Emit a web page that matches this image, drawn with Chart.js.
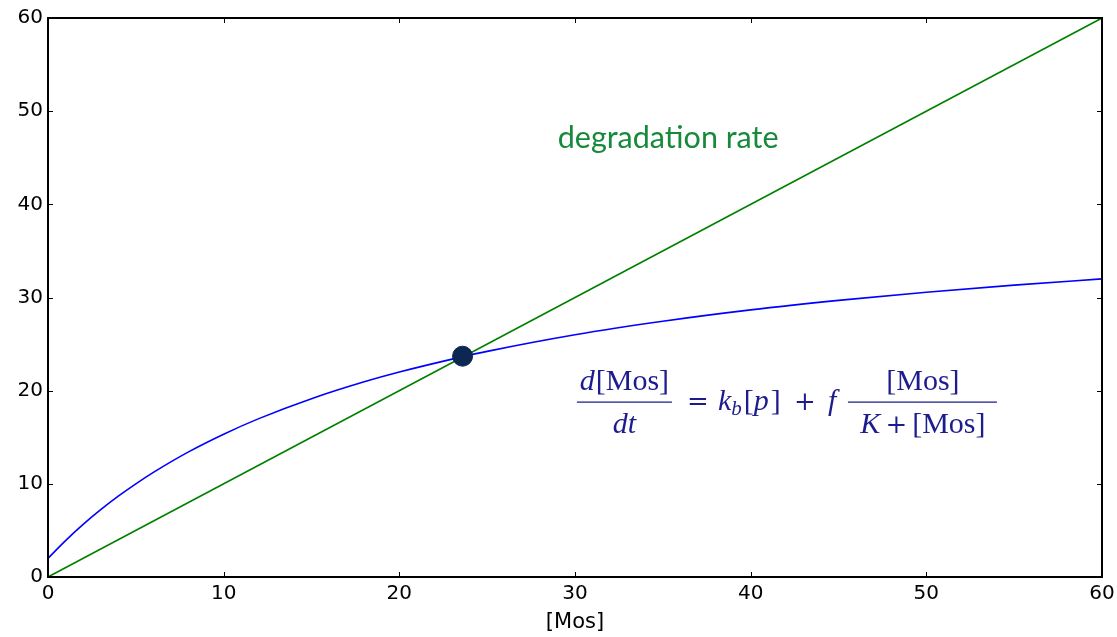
<!DOCTYPE html>
<html>
<head>
<meta charset="utf-8">
<script src="https://cdn.jsdelivr.net/npm/chart.js@4"></script>
<style>
    html, body { margin: 0; padding: 0; background: white; }
    #chart-wrap { width: 1117px; height: 637px; }
</style>
</head>
<body>
<div id="chart-wrap"><canvas id="chart-mos" width="1117" height="637"></canvas></div>
<script>
// values
const mosValues = [0, 1, 2, 3, 4, 5, 6, 8, 10, 12, 15, 18, 20, 23.5, 25, 30, 35, 40, 45, 50, 55, 60];
const productionRate = [2, 3.9, 5.64, 7.22, 8.67, 10, 11.23, 13.43, 15.33, 17, 19.14, 20.95, 22, 23.6, 24.22, 26, 27.45, 28.67, 29.69, 30.57, 31.33, 32];
const degradationMos = [0, 60];
const degradationRate = [0, 60];
const steadyStateMos = [23.6];
const steadyStateRate = [23.7];
const tickValues = [0, 10, 20, 30, 40, 50, 60];

const chartMosElement = document.getElementById('chart-mos');

function toPoints(xs, ys) {
    return xs.map(function (x, i) { return { x: x, y: ys[i] }; });
}

// inward ticks on all four sides plus the box, like the classic matplotlib frame
const frameTicks = {
    id: 'frameTicks',
    afterDatasetsDraw(chart) {
        const ctx = chart.ctx;
        const area = chart.chartArea;
        const xs = chart.scales.x;
        const ys = chart.scales.y;
        ctx.save();
        ctx.strokeStyle = '#000';
        ctx.lineWidth = 1;
        tickValues.forEach(v => {
            const px = Math.round(xs.getPixelForValue(v)) + 0.5;
            ctx.beginPath();
            ctx.moveTo(px, area.bottom); ctx.lineTo(px, area.bottom - 5);
            ctx.moveTo(px, area.top); ctx.lineTo(px, area.top + 5);
            ctx.stroke();
            const py = Math.round(ys.getPixelForValue(v)) + 0.5;
            ctx.beginPath();
            ctx.moveTo(area.left, py); ctx.lineTo(area.left + 5, py);
            ctx.moveTo(area.right, py); ctx.lineTo(area.right - 5, py);
            ctx.stroke();
        });
        ctx.lineWidth = 2;
        ctx.strokeRect(area.left, area.top, area.right - area.left, area.bottom - area.top);
        ctx.restore();
    }
};

// draw a row of text runs, each {t, it, op, size, dy, gap}
function drawRuns(ctx, runs, x, y, align) {
    const fontOf = r => r.op
        ? '26px "DejaVu Serif", serif'
        : (r.it ? 'italic ' : '') + (r.size || 30) + 'px "Liberation Serif", serif';
    let total = 0;
    runs.forEach(r => { ctx.font = fontOf(r); total += ctx.measureText(r.t).width + (r.gap || 0); });
    let cx = align === 'center' ? x - total / 2 : x;
    ctx.textAlign = 'left';
    ctx.textBaseline = 'alphabetic';
    runs.forEach(r => {
        ctx.font = fontOf(r);
        ctx.fillText(r.t, cx, y + (r.dy || 0));
        cx += ctx.measureText(r.t).width + (r.gap || 0);
    });
}

const labels = {
    id: 'labels',
    afterDatasetsDraw(chart) {
        const ctx = chart.ctx;
        const xs = chart.scales.x;
        const ys = chart.scales.y;
        ctx.save();

        ctx.fillStyle = '#16893a';
        ctx.font = '30.5px Lato, "Open Sans", sans-serif';
        ctx.textAlign = 'center';
        ctx.textBaseline = 'alphabetic';
        ctx.fillText('degradation rate', xs.getPixelForValue(35.3), ys.getPixelForValue(46.04));

        // equation, anchored at the left end of the first fraction bar
        const ax = xs.getPixelForValue(30.11);
        const ay = ys.getPixelForValue(18.78);
        ctx.fillStyle = '#1c1c8e';
        ctx.strokeStyle = '#1c1c8e';
        ctx.lineWidth = 1.3;

        ctx.beginPath();
        ctx.moveTo(ax, ay); ctx.lineTo(ax + 95, ay);
        ctx.moveTo(ax + 271, ay); ctx.lineTo(ax + 420, ay);
        ctx.stroke();

        drawRuns(ctx, [{ t: 'd', it: true, gap: 1 }, { t: '[Mos]' }], ax + 47.5, ay - 12, 'center');
        drawRuns(ctx, [{ t: 'dt', it: true }], ax + 47.5, ay + 31, 'center');

        const base = ay + 8;
        drawRuns(ctx, [{ t: '=', op: true }], ax + 110, base, 'left');
        drawRuns(ctx, [
            { t: 'k', it: true },
            { t: 'b', it: true, size: 21, dy: 5, gap: 2 },
            { t: '[' }, { t: 'p', it: true, gap: 2 }, { t: ']' }
        ], ax + 141, base, 'left');
        drawRuns(ctx, [{ t: '+', op: true }], ax + 217, base, 'left');
        drawRuns(ctx, [{ t: 'f', it: true }], ax + 251, base, 'left');

        drawRuns(ctx, [{ t: '[Mos]' }], ax + 346, ay - 12, 'center');
        drawRuns(ctx, [{ t: 'K', it: true, gap: 5 }, { t: '+', op: true, gap: 5 }, { t: '[Mos]' }], ax + 346, ay + 31, 'center');

        ctx.restore();
    }
};

const tickFont = { family: '"DejaVu Sans", sans-serif', size: 20 };

const chartMos = new Chart(chartMosElement, {
    type: 'line',
    data: {
        datasets: [
            {
                label: 'steady state',
                data: toPoints(steadyStateMos, steadyStateRate),
                showLine: false,
                pointRadius: 10,
                pointBackgroundColor: '#0b2752',
                pointBorderColor: '#0b2752',
                pointBorderWidth: 1
            },
            {
                label: 'production rate',
                data: toPoints(mosValues, productionRate),
                borderColor: '#0000ff',
                borderWidth: 1.6,
                pointRadius: 0,
                cubicInterpolationMode: 'monotone'
            },
            {
                label: 'degradation rate',
                data: toPoints(degradationMos, degradationRate),
                borderColor: '#008000',
                borderWidth: 1.6,
                pointRadius: 0
            }
        ]
    },
    options: {
        responsive: false,
        animation: false,
        layout: {
            padding: { left: 0, right: 15, top: 18, bottom: 0 }
        },
        scales: {
            x: {
                type: 'linear',
                min: 0,
                max: 60,
                afterFit: scale => {
                    scale.height = 60;
                    scale.paddingLeft = 0;
                    scale.paddingRight = 0;
                },
                afterBuildTicks: scale => { scale.ticks = tickValues.map(v => ({ value: v })); },
                grid: { display: false, drawTicks: false },
                border: { display: false },
                ticks: {
                    color: '#000',
                    font: tickFont,
                    padding: 5,
                    maxRotation: 0
                },
                title: {
                    display: true,
                    text: '[Mos]',
                    color: '#000',
                    font: { family: '"DejaVu Sans", sans-serif', size: 21 },
                    padding: { top: 0, bottom: 2 }
                }
            },
            y: {
                type: 'linear',
                min: 0,
                max: 60,
                afterFit: scale => {
                    scale.width = 48;
                    scale.paddingTop = 0;
                    scale.paddingBottom = 0;
                },
                afterBuildTicks: scale => { scale.ticks = tickValues.map(v => ({ value: v })); },
                grid: { display: false, drawTicks: false },
                border: { display: false },
                ticks: {
                    color: '#000',
                    font: tickFont,
                    padding: 5
                }
            }
        },
        plugins: {
            legend: { display: false },
            tooltip: { enabled: false }
        }
    },
    plugins: [frameTicks, labels]
});
</script>
</body>
</html>
